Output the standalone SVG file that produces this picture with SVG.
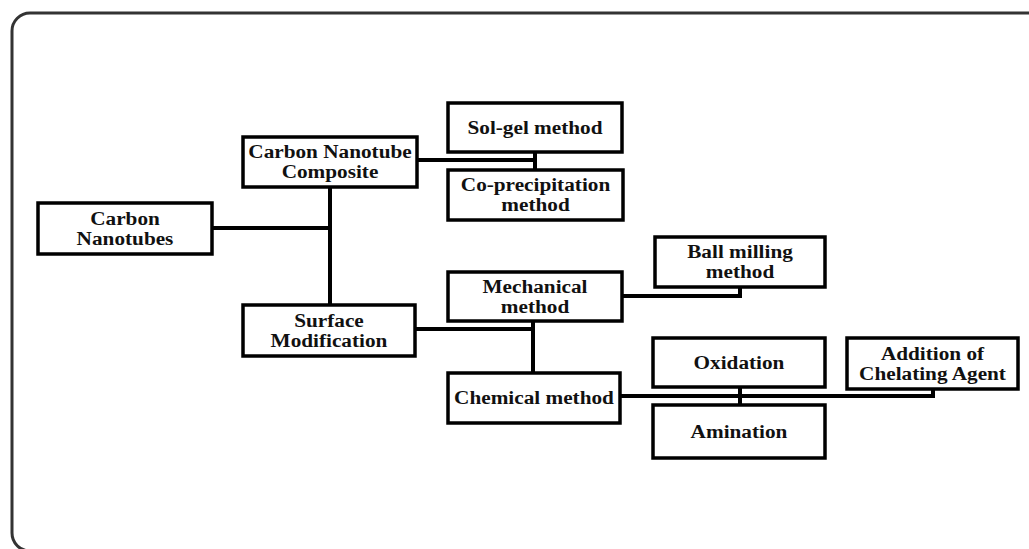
<svg xmlns="http://www.w3.org/2000/svg" width="1029" height="549" viewBox="0 0 1029 549">
<style>
.box{fill:#fff;stroke:#000;stroke-width:3.5}
.t{font-family:"Liberation Serif","Times New Roman",serif;font-weight:bold;font-size:19.5px;fill:#111;text-anchor:middle}
.c{fill:none;stroke:#000;stroke-width:4}
</style>
<rect x="12" y="13" width="1040" height="538" rx="18" fill="#fff" stroke="#333" stroke-width="3"/>
<g id="connectors">
<path class="c" d="M212 228H330"/>
<path class="c" d="M330 187V305"/>
<path class="c" d="M417 160H535"/>
<path class="c" d="M535 152V170"/>
<path class="c" d="M415 329H533"/>
<path class="c" d="M533 321V373"/>
<path class="c" d="M622 296H740V287"/>
<path class="c" d="M620 396H933V389"/>
<path class="c" d="M740 387V405"/>
</g>
<g id="cnt"><rect class="box" x="38" y="203" width="174" height="51"/><g transform="translate(125,0) scale(1.09,1)"><text class="t" x="0" y="225">Carbon</text><text class="t" x="0" y="245">Nanotubes</text></g></g>
<g id="cnc"><rect class="box" x="243" y="137" width="174" height="50"/><g transform="translate(330,0) scale(1.09,1)"><text class="t" x="0" y="158">Carbon Nanotube</text><text class="t" x="0" y="178">Composite</text></g></g>
<g id="solgel"><rect class="box" x="448" y="103" width="174" height="49"/><g transform="translate(535,0) scale(1.09,1)"><text class="t" x="0" y="134">Sol-gel method</text></g></g>
<g id="coprec"><rect class="box" x="448" y="170" width="175" height="50"/><g transform="translate(535.5,0) scale(1.09,1)"><text class="t" x="0" y="191">Co-precipitation</text><text class="t" x="0" y="211">method</text></g></g>
<g id="surface"><rect class="box" x="243" y="305" width="172" height="51"/><g transform="translate(329,0) scale(1.09,1)"><text class="t" x="0" y="327">Surface</text><text class="t" x="0" y="347">Modification</text></g></g>
<g id="mech"><rect class="box" x="448" y="272" width="174" height="49"/><g transform="translate(535,0) scale(1.09,1)"><text class="t" x="0" y="293">Mechanical</text><text class="t" x="0" y="313">method</text></g></g>
<g id="chem"><rect class="box" x="448" y="373" width="172" height="50"/><g transform="translate(534,0) scale(1.09,1)"><text class="t" x="0" y="404.5">Chemical method</text></g></g>
<g id="ball"><rect class="box" x="655" y="237" width="170" height="50"/><g transform="translate(740,0) scale(1.09,1)"><text class="t" x="0" y="258">Ball milling</text><text class="t" x="0" y="278">method</text></g></g>
<g id="oxid"><rect class="box" x="653" y="338" width="172" height="49"/><g transform="translate(739,0) scale(1.09,1)"><text class="t" x="0" y="369">Oxidation</text></g></g>
<g id="addition"><rect class="box" x="847" y="338" width="171" height="51"/><g transform="translate(932.5,0) scale(1.09,1)"><text class="t" x="0" y="360">Addition of</text><text class="t" x="0" y="380">Chelating Agent</text></g></g>
<g id="amin"><rect class="box" x="653" y="405" width="172" height="53"/><g transform="translate(739,0) scale(1.09,1)"><text class="t" x="0" y="438">Amination</text></g></g>
</svg>
